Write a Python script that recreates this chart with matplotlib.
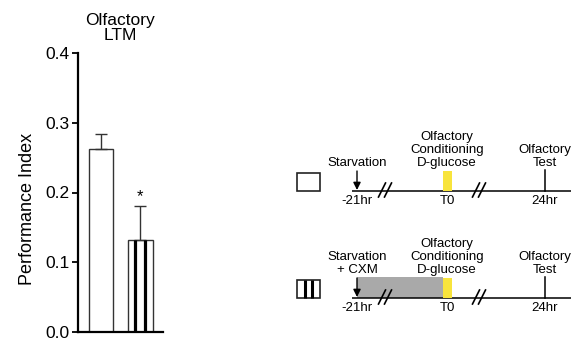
import matplotlib.pyplot as plt
from matplotlib.patches import Rectangle

plt.rcParams['font.family'] = ['Liberation Sans', 'DejaVu Sans']

# bar chart data
groups = ['Control', 'CXM']
pi_mean = [0.263, 0.132]
pi_sem = [0.021, 0.048]
striped = [False, True]
yticks = [0.0, 0.1, 0.2, 0.3, 0.4]
ytick_labels = ['0.0', '0.1', '0.2', '0.3', '0.4']

# protocol schematic text
time_labels = ['-21hr', 'T0', '24hr']
row_labels = [
    ['Starvation', 'Olfactory\nConditioning\nD-glucose', 'Olfactory\nTest'],
    ['Starvation\n+ CXM', 'Olfactory\nConditioning\nD-glucose', 'Olfactory\nTest'],
]

W, H = 571, 340
fig = plt.figure(figsize=(W / 100, H / 100), dpi=100)

# overlay in pixel coordinates for the schematic
dax = fig.add_axes([0, 0, 1, 1])
dax.set_xlim(0, W)
dax.set_ylim(H, 0)
dax.axis('off')
dax.patch.set_visible(False)

ax = fig.add_axes([78 / W, 1 - 332 / H, 85 / W, (332 - 53) / H])
xs = [0.27 + 0.465 * i for i in range(len(groups))]
bw = 0.29
ax.bar(xs, pi_mean, width=bw, color='white', edgecolor='#333333', linewidth=1.0,
       yerr=[[0] * len(pi_sem), pi_sem],
       error_kw=dict(ecolor='#333333', elinewidth=1.0, capsize=4.3, capthick=1.0))
for x, m, s in zip(xs, pi_mean, striped):
    if s:
        ax.vlines([x - 0.21 * bw, x + 0.2 * bw], 0, m, color='black', linewidth=2.3)
ax.text(xs[1], pi_mean[1] + pi_sem[1] + 0.004, '*', ha='center', va='bottom', fontsize=12)

ax.set_xlim(0, 1)
ax.set_ylim(0, 0.4)
ax.set_yticks(yticks)
ax.set_yticklabels(ytick_labels)
ax.set_xticks([])
ax.tick_params(axis='y', length=4, width=1.3, pad=2, labelsize=12.5)
for side in ['top', 'right']:
    ax.spines[side].set_visible(False)
for side in ['left', 'bottom']:
    ax.spines[side].set_linewidth(1.6)
ax.set_title('Olfactory\nLTM', fontsize=12.5, pad=9, linespacing=1.05)
ax.set_ylabel('Performance Index', fontsize=13)
ax.yaxis.set_label_coords(-0.49, 0.44)

# schematic rows
tx = [357, 447, 545]
line_y = [191, 298]
for r, ly in enumerate(line_y):
    dax.plot([352, W], [ly, ly], color='black', lw=1.1, solid_capstyle='butt')
    # legend box for the group
    dax.add_patch(Rectangle((297, ly - 18), 23, 18, facecolor='white',
                            edgecolor='#222222', lw=1.2))
    if striped[r]:
        dax.vlines([297 + 23 / 3, 297 + 46 / 3], ly - 18, ly, color='black', lw=2.2)
        dax.add_patch(Rectangle((tx[0], ly - 21), tx[1] - 4 - tx[0], 21,
                                facecolor='#a9a9a9', edgecolor='none', zorder=1))
    dax.add_patch(Rectangle((tx[1] - 4, ly - 20), 9, 20, facecolor='#f8e43c',
                            edgecolor='none', zorder=2))
    dax.annotate('', xy=(tx[0], ly - 1), xytext=(tx[0], ly - 20),
                 arrowprops=dict(arrowstyle='-|>', color='black', lw=1.0,
                                 mutation_scale=11, shrinkA=0, shrinkB=0))
    dax.plot([tx[2], tx[2]], [ly - 21, ly], color='black', lw=1.1)
    for c in [385, 479]:
        for o in [-3, 3]:
            dax.plot([c + o - 3.5, c + o + 3.5], [ly + 6, ly - 8], color='black',
                     lw=1.2, zorder=3)
    for x, lab in zip(tx, row_labels[r]):
        dax.text(x, ly - 22, lab, ha='center', va='bottom', fontsize=9.5,
                 linespacing=1.1)
    for x, lab in zip(tx, time_labels):
        dax.text(x, ly + 4, lab, ha='center', va='top', fontsize=9.5)

fig.savefig('out.png', dpi=100)
